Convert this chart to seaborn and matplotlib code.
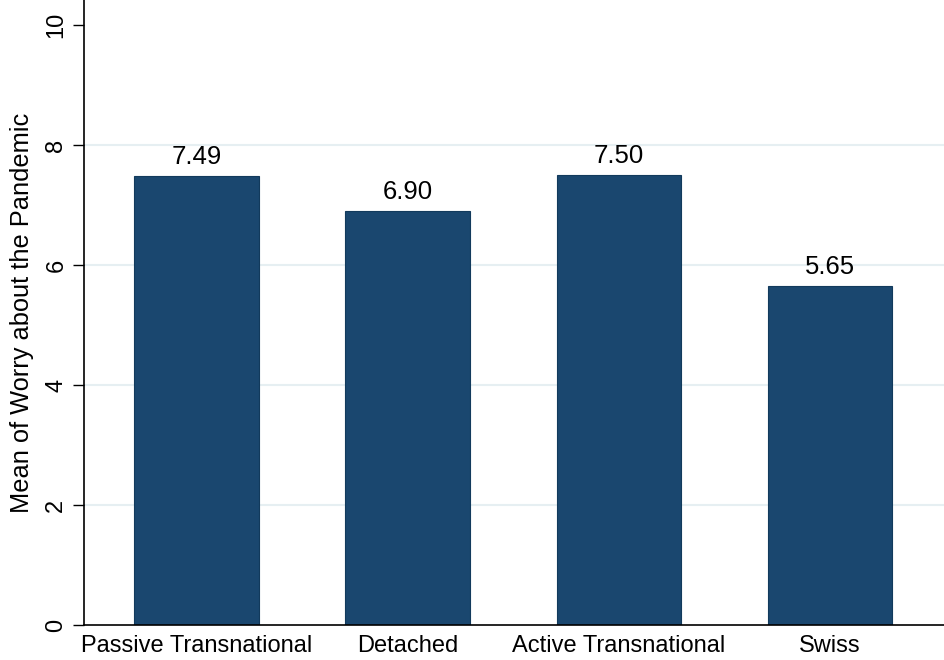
import matplotlib
matplotlib.use("Agg")
import matplotlib.pyplot as plt
import seaborn as sns
import pandas as pd

groups = ["Passive Transnational", "Detached", "Active Transnational", "Swiss"]
worry_mean = [7.49, 6.90, 7.50, 5.65]
yticks = [0, 2, 4, 6, 8, 10]

df = pd.DataFrame({"group": groups, "worry": worry_mean})

sns.set_style("white")
plt.rcParams["font.family"] = ["Liberation Sans", "DejaVu Sans"]
plt.rcParams["text.color"] = "black"
plt.rcParams["axes.labelcolor"] = "black"
plt.rcParams["xtick.color"] = "black"
plt.rcParams["ytick.color"] = "black"

fig = plt.figure(figsize=(9.44, 6.6), dpi=100)
ax = fig.add_axes([0.089, 0.053, 0.911, 0.947])

for y in yticks[1:-1]:
    ax.axhline(y, color="#e6eff2", lw=1.5, zorder=0)

sns.barplot(data=df, x="group", y="worry", color="#1a476f", saturation=1,
            width=0.59, edgecolor="#123a5c", linewidth=0.8, ax=ax, zorder=2)
ax.bar_label(ax.containers[0], labels=[f"{v:.2f}" for v in worry_mean],
             padding=5, fontsize=18.5, color="black")

ax.set_ylim(0, 10.42)
ax.set_xlim(-0.533, 3.54)
ax.set_yticks(yticks)
ax.set_yticklabels([str(t) for t in yticks], rotation=90, va="center", fontsize=17)
ax.tick_params(axis="x", labelsize=17, length=0, pad=7)
ax.tick_params(axis="y", length=8, width=1, color="black", left=True, pad=4)
ax.set_xlabel("")
ax.set_ylabel("Mean of Worry about the Pandemic", fontsize=18.3, labelpad=8)
for s in ["top", "right"]:
    ax.spines[s].set_visible(False)
for s in ["left", "bottom"]:
    ax.spines[s].set_color("black")
    ax.spines[s].set_linewidth(1.2)

fig.savefig("out.png", dpi=100)
